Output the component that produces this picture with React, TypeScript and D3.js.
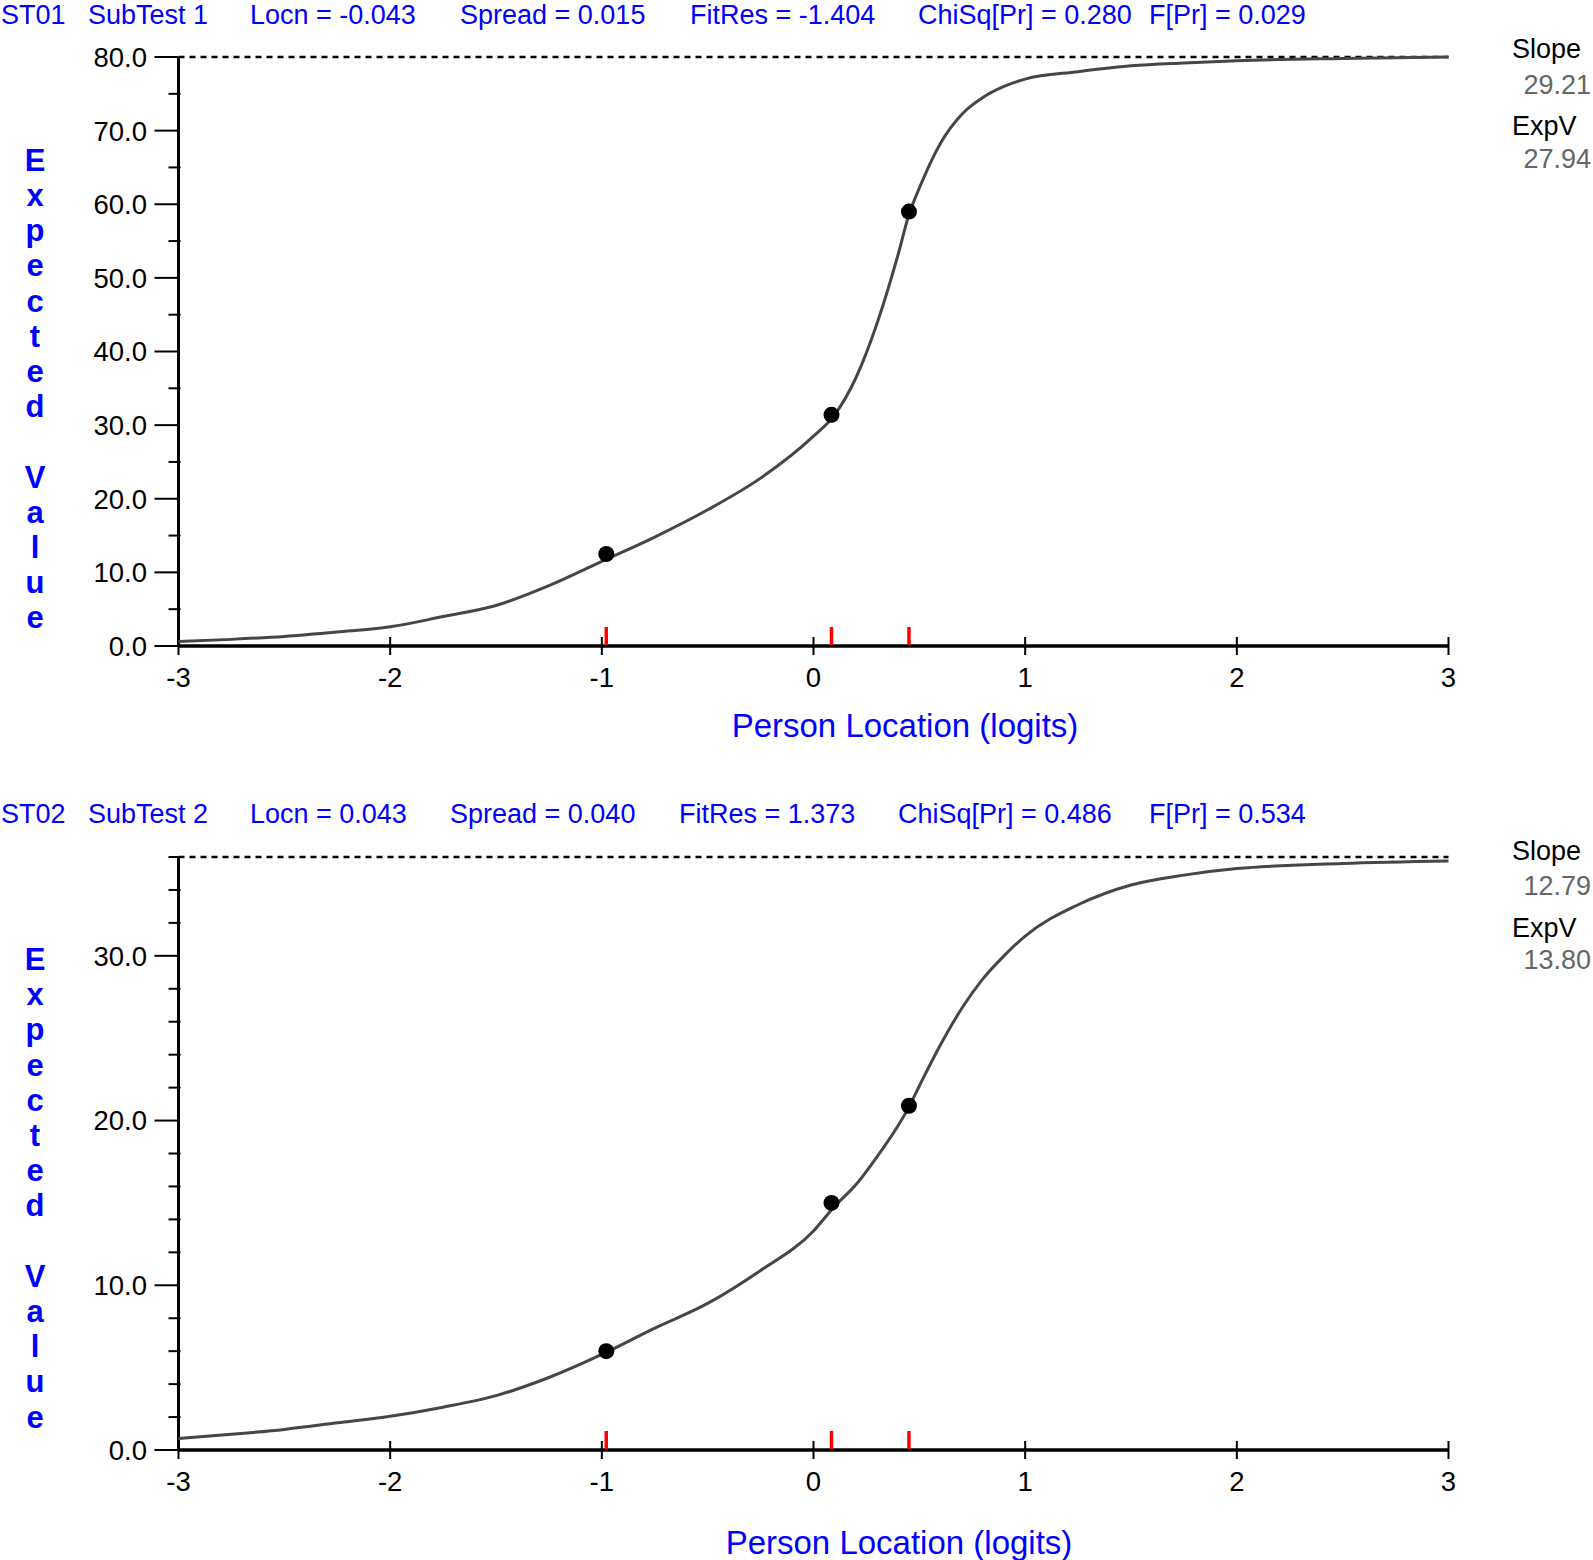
import React from 'react';
import * as d3 from 'd3';

// ---------- data ----------
const logitGrid = [-3, -2.75, -2.5, -2.25, -2, -1.75, -1.5, -1.25, -1, -0.75, -0.5, -0.25, 0, 0.1, 0.2, 0.3, 0.4, 0.45, 0.5, 0.6, 0.7, 0.8, 0.9, 1, 1.25, 1.5, 1.75, 2, 2.5, 3];
const st01Curve = [0.6, 0.9, 1.3, 1.9, 2.6, 4.0, 5.5, 8.2, 11.5, 14.8, 18.5, 22.8, 28.5, 31.4, 36.4, 43.8, 53.2, 58.5, 62.2, 68.3, 72.2, 74.5, 76.0, 77.0, 78.0, 78.8, 79.2, 79.5, 79.8, 80.0];
const st02Curve = [0.7, 0.95, 1.25, 1.65, 2.05, 2.6, 3.3, 4.4, 5.8, 7.4, 8.9, 10.9, 13.3, 14.8, 16.1, 17.8, 19.7, 20.8, 22.1, 24.6, 26.8, 28.6, 30.0, 31.2, 33.1, 34.3, 34.9, 35.3, 35.6, 35.75];
const classLogits = [-0.979, 0.085, 0.451];
const st01Observed = [12.5, 31.4, 59.0];
const st02Observed = [6.0, 15.0, 20.9];
const xTickValues = [-3, -2, -1, 0, 1, 2, 3];
const st01MajorTicks = [0, 10, 20, 30, 40, 50, 60, 70, 80];
const st01MinorTicks = [5, 15, 25, 35, 45, 55, 65, 75];
const st02MajorTicks = [0, 10, 20, 30];
const st02MinorTicks = [2, 4, 6, 8, 12, 14, 16, 18, 22, 24, 26, 28, 32, 34, 36];
const st01Max = 80;
const st02Max = 36;
const st01Header = ['ST01', 'SubTest 1', 'Locn = -0.043', 'Spread = 0.015', 'FitRes = -1.404', 'ChiSq[Pr] = 0.280', 'F[Pr] = 0.029'];
const st02Header = ['ST02', 'SubTest 2', 'Locn = 0.043', 'Spread = 0.040', 'FitRes = 1.373', 'ChiSq[Pr] = 0.486', 'F[Pr] = 0.534'];
const statNames = ['Slope', 'ExpV'];
const st01Stats = ['29.21', '27.94'];
const st02Stats = ['12.79', '13.80'];
const yLabelText = 'Expected Value';
const xLabelText = 'Person Location (logits)';

// ---------- layout ----------
const FONT = "'Liberation Sans', Arial, Helvetica, sans-serif";
const BLUE = '#0000ff';
const X0 = 178.5;
const X1 = 1448.5;

const fmt = d3.format('.1f');

type PanelProps = {
  header: string[];
  headerX: number[];
  headerY: number;
  curve: number[];
  observed: number[];
  maxVal: number;
  major: number[];
  minor: number[];
  stats: string[];
  statY: number[];
  axisY: number;
  topY: number;
  yLabelY: number;
  xLabelX: number;
  xLabelY: number;
};

function Panel(p: PanelProps) {
  const x = d3.scaleLinear().domain([-3, 3]).range([X0, X1]);
  const y = d3.scaleLinear().domain([0, p.maxVal]).range([p.axisY, p.topY]);
  const line = d3
    .line<number>()
    .x((_, i) => x(logitGrid[i]))
    .y((d) => y(d))
    .curve(d3.curveMonotoneX);
  const letters = yLabelText.split('');
  return (
    <g>
      {p.header.map((t, i) => (
        <text key={'h' + i} x={p.headerX[i]} y={p.headerY} fill={BLUE} fontSize={27} fontFamily={FONT}>
          {t}
        </text>
      ))}
      {/* stats */}
      {statNames.map((n, i) => (
        <g key={'s' + i}>
          <text x={1512} y={p.statY[i * 2]} fontSize={27} fontFamily={FONT} fill="#000">
            {n}
          </text>
          <text x={1591} y={p.statY[i * 2 + 1]} fontSize={27} fontFamily={FONT} fill="#666" textAnchor="end">
            {p.stats[i]}
          </text>
        </g>
      ))}
      {/* y label */}
      {letters.map((c, i) =>
        c === ' ' ? null : (
          <text key={'l' + i} x={35} y={p.yLabelY + i * 35.2} fill={BLUE} fontSize={31} fontWeight={600} fontFamily={FONT} textAnchor="middle">
            {c}
          </text>
        )
      )}
      {/* dashed max line */}
      <line x1={X0} x2={X1} y1={y(p.maxVal)} y2={y(p.maxVal)} stroke="#000" strokeWidth={2.5} strokeDasharray="6,5" />
      {/* y axis */}
      <line x1={X0} x2={X0} y1={p.axisY} y2={y(p.maxVal)} stroke="#000" strokeWidth={3} />
      {p.major.map((v) => (
        <g key={'M' + v}>
          <line x1={X0 - 24} x2={X0} y1={y(v)} y2={y(v)} stroke="#000" strokeWidth={2} />
          <text x={147} y={y(v)} dy="0.36em" textAnchor="end" fontSize={27.5} fontFamily={FONT} fill="#000">
            {fmt(v)}
          </text>
        </g>
      ))}
      {p.minor.map((v) => (
        <line key={'m' + v} x1={X0 - 10} x2={X0 + 2} y1={y(v)} y2={y(v)} stroke="#000" strokeWidth={2} />
      ))}
      {/* x axis */}
      <line x1={X0} x2={X1} y1={p.axisY} y2={p.axisY} stroke="#000" strokeWidth={3.5} />
      {xTickValues.map((v) => (
        <g key={'x' + v}>
          <line x1={x(v)} x2={x(v)} y1={p.axisY - 9} y2={p.axisY + 9} stroke="#000" strokeWidth={2} />
          <text x={x(v)} y={p.axisY + 41} textAnchor="middle" fontSize={27.5} fontFamily={FONT} fill="#000">
            {v}
          </text>
        </g>
      ))}
      {/* red class markers */}
      {classLogits.map((v, i) => (
        <line key={'r' + i} x1={x(v)} x2={x(v)} y1={p.axisY - 1} y2={p.axisY - 19} stroke="#ff0000" strokeWidth={3.5} />
      ))}
      {/* curve */}
      <path d={line(p.curve) || ''} fill="none" stroke="#464646" strokeWidth={3} />
      {/* observed points */}
      {p.observed.map((v, i) => (
        <circle key={'p' + i} cx={x(classLogits[i])} cy={y(v)} r={8} fill="#000" />
      ))}
      {/* x label */}
      <text x={p.xLabelX} y={p.xLabelY} textAnchor="middle" fontSize={33} fontFamily={FONT} fill={BLUE}>
        {xLabelText}
      </text>
    </g>
  );
}

export default function App() {
  return (
    <svg
      width={1593}
      height={1560}
      style={{ position: 'absolute', left: 0, top: 0, background: '#fff' }}
    >
      <rect x={0} y={0} width={1593} height={1560} fill="#fff" />
      <Panel
        header={st01Header}
        headerX={[1, 88, 250, 460, 690, 918, 1149]}
        headerY={24}
        curve={st01Curve}
        observed={st01Observed}
        maxVal={st01Max}
        major={st01MajorTicks}
        minor={st01MinorTicks}
        stats={st01Stats}
        statY={[58, 93.5, 135, 167.6]}
        axisY={646}
        topY={57}
        yLabelY={170.7}
        xLabelX={905}
        xLabelY={737}
      />
      <Panel
        header={st02Header}
        headerX={[1, 88, 250, 450, 679, 898, 1149]}
        headerY={823}
        curve={st02Curve}
        observed={st02Observed}
        maxVal={st02Max}
        major={st02MajorTicks}
        minor={st02MinorTicks}
        stats={st02Stats}
        statY={[859.5, 895, 937, 969]}
        axisY={1450}
        topY={857}
        yLabelY={970}
        xLabelX={899}
        xLabelY={1554}
      />
    </svg>
  );
}
